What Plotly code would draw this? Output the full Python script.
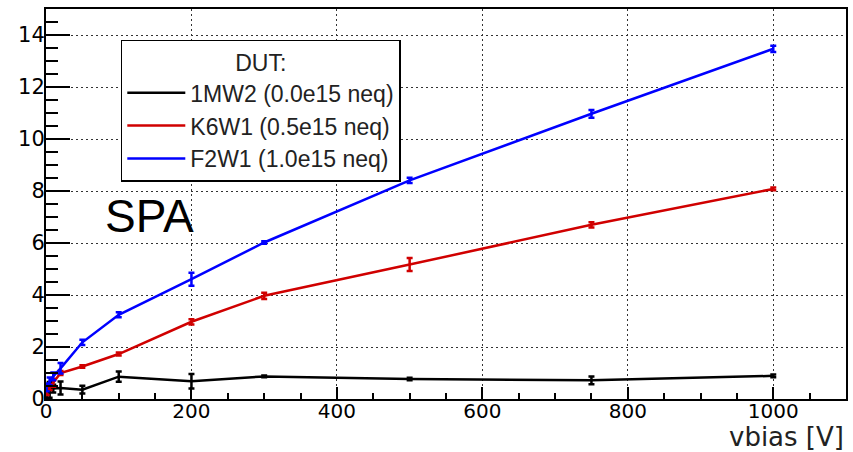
import plotly.graph_objects as go

vbias = [1, 5, 10, 20, 50, 100, 200, 300, 500, 750, 1000]

names = ["1MW2 (0.0e15 neq)", "K6W1 (0.5e15 neq)", "F2W1 (1.0e15 neq)"]
colors = ["#000000", "#d00000", "#0000ff"]

y_1mw2 = [0.20, 0.35, 0.40, 0.42, 0.36, 0.86, 0.68, 0.87, 0.77, 0.72, 0.89]
e_1mw2 = [0.20, 0.30, 0.15, 0.25, 0.15, 0.20, 0.28, 0.03, 0.05, 0.15, 0.05]

y_k6w1 = [0.30, 0.45, 0.62, 1.00, 1.25, 1.73, 2.97, 3.97, 5.17, 6.70, 8.08]
e_k6w1 = [0.15, 0.10, 0.15, 0.08, 0.05, 0.06, 0.10, 0.12, 0.25, 0.10, 0.05]

y_f2w1 = [0.45, 0.68, 0.87, 1.18, 2.18, 3.24, 4.61, 6.02, 8.41, 10.97, 13.47]
e_f2w1 = [0.15, 0.15, 0.15, 0.20, 0.10, 0.10, 0.25, 0.05, 0.10, 0.15, 0.12]

x_ticks = [0, 200, 400, 600, 800, 1000]
y_ticks = [0, 2, 4, 6, 8, 10, 12, 14]

series = [(y_1mw2, e_1mw2), (y_k6w1, e_k6w1), (y_f2w1, e_f2w1)]

fig = go.Figure()
for i, ((yv, ev), nm, col) in enumerate(zip(series, names, colors)):
    fig.add_trace(go.Scatter(
        x=vbias, y=yv, name=nm, mode="lines",
        line=dict(color=col, width=2.5),
        error_y=dict(type="data", array=ev, visible=True, color=col,
                     thickness=2.5, width=3),
        legendgroup=f"g{i}",
    ))

axis_font = dict(family="DejaVu Sans", size=20, color="black")

fig.update_layout(
    width=853, height=452,
    margin=dict(l=46, r=5, t=9, b=53),
    paper_bgcolor="white", plot_bgcolor="white",
    showlegend=True,
    legend=dict(
        x=0.0935, y=0.921, xanchor="left", yanchor="top",
        bgcolor="white", bordercolor="black", borderwidth=1.5,
        font=dict(family="Liberation Sans", size=23, color="#222"),
        title=dict(text="DUT:", side="top center",
                   font=dict(family="Liberation Sans", size=23, color="#222")),
        itemwidth=58, tracegroupgap=0, traceorder="grouped",
    ),
    xaxis=dict(
        range=[0, 1100], tickvals=x_ticks, ticktext=[str(v) for v in x_ticks],
        ticks="inside", ticklen=12, tickwidth=1.5, tickcolor="black",
        minor=dict(ticks="inside", ticklen=6, dtick=50, tickcolor="black", showgrid=False),
        showgrid=True, gridcolor="#333", griddash="2px,3px", gridwidth=1,
        showline=True, linecolor="black", linewidth=2, mirror=True,
        zeroline=False, tickfont=axis_font, ticklabelstandoff=-7,
    ),
    yaxis=dict(
        range=[0, 15], tickvals=y_ticks, ticktext=[str(v) for v in y_ticks],
        ticks="inside", ticklen=24, tickwidth=1.5, tickcolor="black",
        minor=dict(ticks="inside", ticklen=12, dtick=0.5, tickcolor="black", showgrid=False),
        showgrid=True, gridcolor="#333", griddash="2px,3px", gridwidth=1,
        showline=True, linecolor="black", linewidth=2, mirror=True,
        zeroline=False, tickfont=dict(family="DejaVu Sans", size=21, color="black"),
        ticklabelstandoff=-5,
    ),
    annotations=[
        dict(text="SPA", xref="paper", yref="paper", x=0.071, y=0.47,
             xanchor="left", yanchor="middle", showarrow=False,
             font=dict(family="Liberation Sans", size=46, color="black")),
        dict(text="vbias [V]", xref="paper", yref="paper", x=1.0, y=-0.098,
             xanchor="right", yanchor="middle", showarrow=False,
             font=dict(family="DejaVu Sans", size=26, color="#222")),
    ],
)

fig.write_html("out.html")
